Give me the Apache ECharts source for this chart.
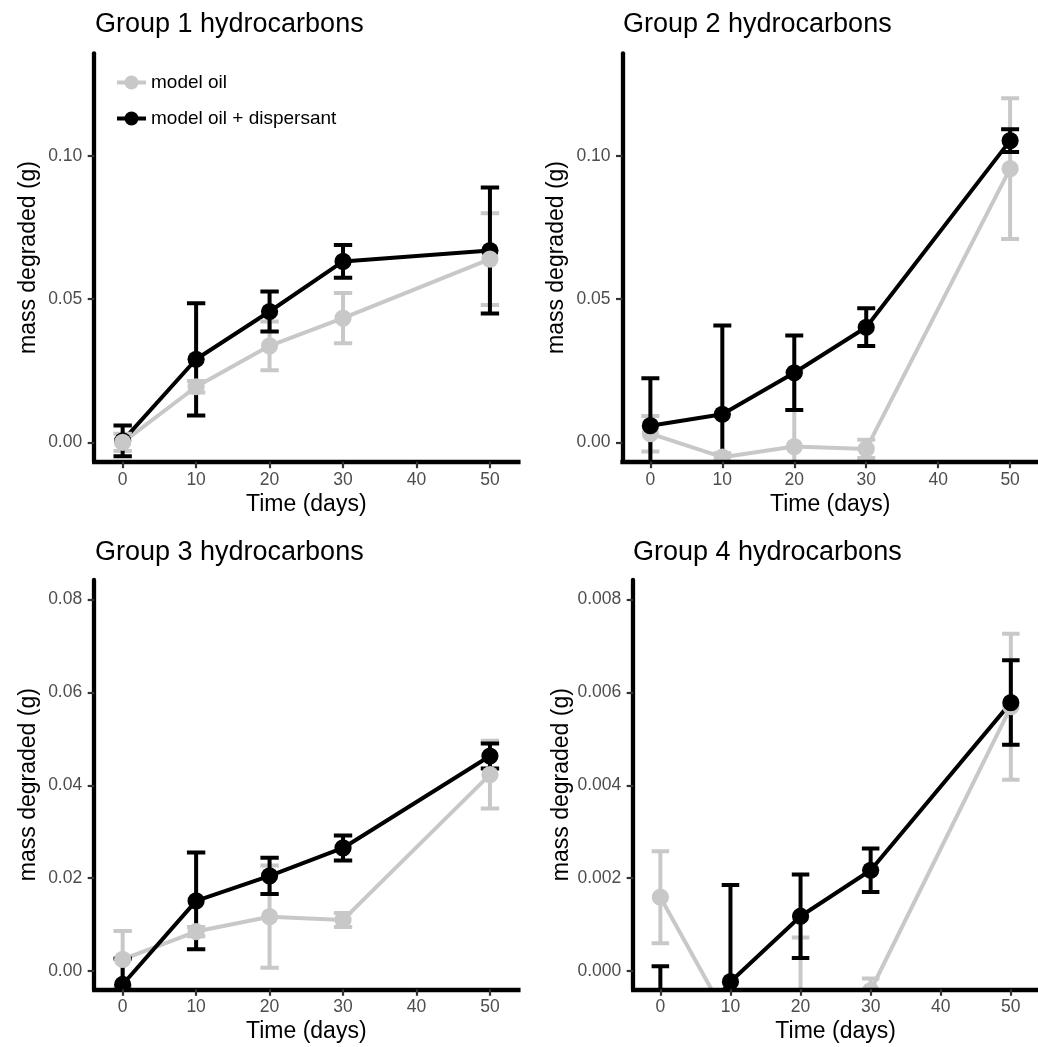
<!DOCTYPE html>
<html>
<head>
<meta charset="utf-8">
<script src="https://cdn.jsdelivr.net/npm/echarts@6/dist/echarts.min.js"></script>
<style>
html,body{margin:0;padding:0;background:#fff;}
#chart{width:1038px;height:1047px;}
</style>
</head>
<body>
<div id="chart"></div>
<script>
// ---- data ----
const days = [0, 10, 20, 30, 50];
const xTicks = [0, 10, 20, 30, 40, 50];

const g1Oil      = [0.0000, 0.0194, 0.0337, 0.0434, 0.0640];
const g1OilErr   = [0.0030, 0.0020, 0.0085, 0.0088, 0.0160];
const g1Disp     = [0.0005, 0.0290, 0.0457, 0.0632, 0.0670];
const g1DispErr  = [0.0054, 0.0196, 0.0070, 0.0057, 0.0220];

const g2Oil      = [0.0030, -0.0052, -0.0015, -0.0023, 0.0956];
const g2OilErr   = [0.0062, 0.0014, 0.0260, 0.0032, 0.0246];
const g2Disp     = [0.0058, 0.0098, 0.0243, 0.0402, 0.1054];
const g2DispErr  = [0.0166, 0.0310, 0.0130, 0.0066, 0.0040];

const g3Oil      = [0.0025, 0.0085, 0.0117, 0.0110, 0.0423];
const g3OilErr   = [0.0061, 0.0010, 0.0110, 0.0015, 0.0073];
const g3Disp     = [-0.0029, 0.0151, 0.0205, 0.0265, 0.0463];
const g3DispErr  = [0.0056, 0.0104, 0.0039, 0.0027, 0.0027];

const g4Oil      = [0.00159, -0.00113, -0.00080, -0.00042, 0.00569];
const g4OilErr   = [0.00099, 0.00060, 0.00152, 0.00026, 0.00157];
const g4Disp     = [-0.00200, -0.00023, 0.00118, 0.00217, 0.00578];
const g4DispErr  = [0.00210, 0.00208, 0.00090, 0.00047, 0.00091];

const titles = ['Group 1 hydrocarbons', 'Group 2 hydrocarbons', 'Group 3 hydrocarbons', 'Group 4 hydrocarbons'];
const yTicks12 = [0, 0.05, 0.10];
const yTicks3  = [0, 0.02, 0.04, 0.06, 0.08];
const yTicks4  = [0, 0.002, 0.004, 0.006, 0.008];
const seriesNames = ['model oil', 'model oil + dispersant'];

// ---- layout / style ----
const FONT = "'Liberation Sans', Arial, Helvetica, sans-serif";
const GRAY = '#c8c8c8';
const BLACK = '#000000';
const panels = [
  {grid:{left:94.2, top:53.3, width:424.2, height:408.4}, ymin:-0.00678, ymax:0.1359, ticks:yTicks12, dec:2,
   oil:g1Oil, oilErr:g1OilErr, disp:g1Disp, dispErr:g1DispErr, grayOnTop:true, title:{left:95, top:11}},
  {grid:{left:622.5, top:53.3, width:424.2, height:408.4}, ymin:-0.00678, ymax:0.1359, ticks:yTicks12, dec:2,
   oil:g2Oil, oilErr:g2OilErr, disp:g2Disp, dispErr:g2DispErr, grayOnTop:false, title:{left:623, top:11}},
  {grid:{left:94.2, top:580, width:424.2, height:409.3}, ymin:-0.00394, ymax:0.0842, ticks:yTicks3, dec:2,
   oil:g3Oil, oilErr:g3OilErr, disp:g3Disp, dispErr:g3DispErr, grayOnTop:false, title:{left:95, top:539}},
  {grid:{left:633.2, top:580, width:414.7, height:409.3}, ymin:-0.000394, ymax:0.00842, ticks:yTicks4, dec:3,
   oil:g4Oil, oilErr:g4OilErr, disp:g4Disp, dispErr:g4DispErr, grayOnTop:false, title:{left:633, top:539}}
];

const CAP_W = 2.5; // error bar width in x data units

function errRender(color){
  return function(params, api){
    const x = api.value(0), lo = api.value(1), hi = api.value(2);
    const pLo = api.coord([x, lo]);
    const pHi = api.coord([x, hi]);
    const hw = api.size([CAP_W, 0])[0] / 2;
    const st = {stroke: color, lineWidth: 4, lineCap: 'butt'};
    return {type:'group', children:[
      {type:'line', shape:{x1:pLo[0], y1:pLo[1], x2:pHi[0], y2:pHi[1]}, style:st},
      {type:'line', shape:{x1:pHi[0]-hw, y1:pHi[1], x2:pHi[0]+hw, y2:pHi[1]}, style:st},
      {type:'line', shape:{x1:pLo[0]-hw, y1:pLo[1], x2:pLo[0]+hw, y2:pLo[1]}, style:st}
    ]};
  };
}
function pointRender(color){
  return function(params, api){
    const p = api.coord([api.value(0), api.value(1)]);
    return {type:'circle', shape:{cx:p[0], cy:p[1], r:8.6}, style:{fill:color}};
  };
}

const grids = [], xAxes = [], yAxes = [], series = [], titleOpts = [];
panels.forEach((p, i) => {
  grids.push(Object.assign({containLabel:false}, p.grid));
  titleOpts.push({text: titles[i], left: p.title.left, top: p.title.top, padding: 0,
    textStyle:{fontFamily: FONT, fontSize: 27, fontWeight: 'normal', color: '#000'}});
  xAxes.push({
    gridIndex: i, type: 'value', min: -3.875, max: 53.875, z: 10,
    name: 'Time (days)', nameLocation: 'middle', nameGap: 31,
    nameTextStyle: {fontFamily: FONT, fontSize: 23, color: '#000'},
    axisLine: {show: true, onZero: false, lineStyle: {color: '#000', width: 4.3, cap: 'square'}},
    axisTick: {show: true, length: 6.5, lineStyle: {color: '#333', width: 2.2}, customValues: xTicks},
    axisLabel: {fontFamily: FONT, fontSize: 17.5, color: '#4d4d4d', margin: 9, customValues: xTicks},
    splitLine: {show: false}
  });
  yAxes.push({
    gridIndex: i, type: 'value', min: p.ymin, max: p.ymax, z: 10,
    name: 'mass degraded (g)', nameLocation: 'middle', nameGap: 54,
    nameTextStyle: {fontFamily: FONT, fontSize: 23, color: '#000'},
    axisLine: {show: true, onZero: false, lineStyle: {color: '#000', width: 4.3}},
    axisTick: {show: true, length: 6.5, lineStyle: {color: '#333', width: 2.2}, customValues: p.ticks},
    axisLabel: {fontFamily: FONT, fontSize: 17.5, color: '#4d4d4d', margin: 12, customValues: p.ticks,
      formatter: v => Number(v).toFixed(p.dec)},
    splitLine: {show: false}
  });
  const groups = [
    {name: seriesNames[0], color: GRAY, vals: p.oil, errs: p.oilErr},
    {name: seriesNames[1], color: BLACK, vals: p.disp, errs: p.dispErr}
  ];
  // lines
  groups.forEach(g => {
    series.push({
      type: 'line', name: g.name, xAxisIndex: i, yAxisIndex: i, z: 2,
      data: days.map((d, k) => [d, g.vals[k]]),
      showSymbol: false, clip: true, silent: true,
      lineStyle: {color: g.color, width: 4}, itemStyle: {color: g.color}
    });
  });
  // error bars
  groups.forEach(g => {
    series.push({
      type: 'custom', name: g.name, xAxisIndex: i, yAxisIndex: i, z: 3, clip: true, silent: true,
      itemStyle: {color: g.color},
      data: days.map((d, k) => [d, g.vals[k] - g.errs[k], g.vals[k] + g.errs[k]]),
      encode: {x: 0, y: [1, 2]},
      renderItem: errRender(g.color)
    });
  });
  // points
  const ptGroups = p.grayOnTop ? [groups[1], groups[0]] : groups;
  ptGroups.forEach(g => {
    series.push({
      type: 'custom', name: g.name, xAxisIndex: i, yAxisIndex: i, z: 4, clip: true, silent: true,
      itemStyle: {color: g.color},
      data: days.map((d, k) => [d, g.vals[k]]),
      encode: {x: 0, y: 1},
      renderItem: pointRender(g.color)
    });
  });
});

const ICON = 'path://M0,5L29,5L29,9L0,9Z M21.5,7A7,7,0,1,1,7.5,7A7,7,0,1,1,21.5,7Z';

const option = {
  backgroundColor: '#ffffff',
  animation: false,
  title: titleOpts,
  legend: {
    left: 112, top: 68, orient: 'vertical', itemWidth: 29, itemHeight: 14, itemGap: 17,
    selectedMode: false,
    textStyle: {fontFamily: FONT, fontSize: 19, color: '#000'},
    data: [
      {name: seriesNames[0], icon: ICON, itemStyle: {color: GRAY}},
      {name: seriesNames[1], icon: ICON, itemStyle: {color: BLACK}}
    ]
  },
  grid: grids, xAxis: xAxes, yAxis: yAxes, series: series
};

const chart = echarts.init(document.getElementById('chart'), null, {renderer: 'canvas'});
chart.setOption(option);
</script>
</body>
</html>
